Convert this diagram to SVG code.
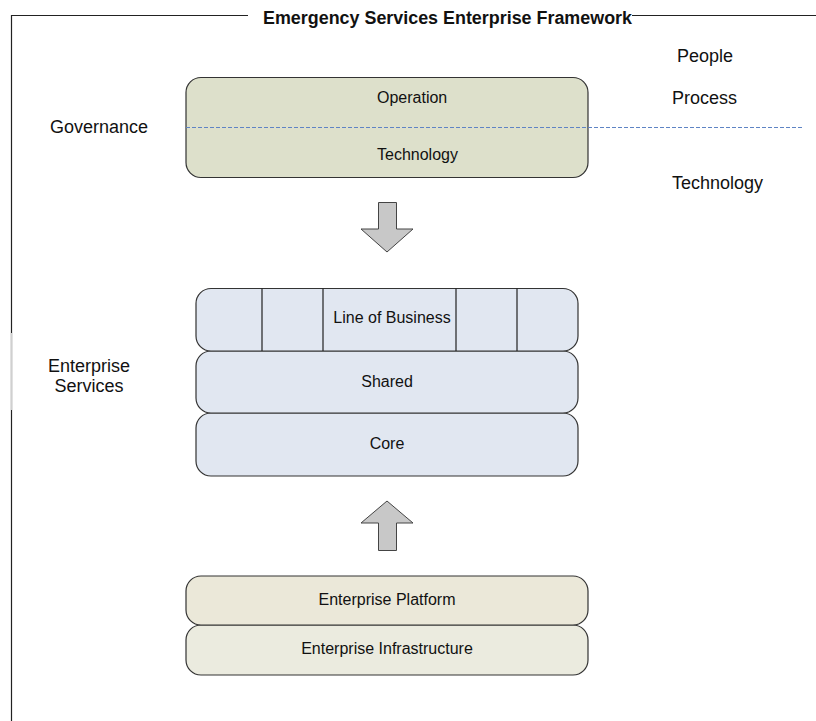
<svg xmlns="http://www.w3.org/2000/svg" width="816" height="721" viewBox="0 0 816 721">
<style>
.t{font-family:"Liberation Sans",Arial,sans-serif;fill:#111;}
.lbl{font-size:18px;}
.in{font-size:16px;text-anchor:middle;}
.box{stroke:#333;stroke-width:1.2;}
.arrow{fill:#c8c8c8;stroke:#444;stroke-width:1;}
</style>
<rect width="816" height="721" fill="#fff"/>
<g id="frame">
<path d="M11.5 721 V15.5 H248 M632 15.5 H816" fill="none" stroke="#222" stroke-width="1.2"/>
<line x1="11.5" y1="333" x2="11.5" y2="410" stroke="#d0d0d0" stroke-width="1.6"/>
<text class="t" x="263" y="24" font-size="17.5" font-weight="bold" textLength="369" lengthAdjust="spacingAndGlyphs">Emergency Services Enterprise Framework</text>
</g>
<g id="governance-label"><text class="t lbl" x="50" y="133">Governance</text></g>
<g id="people-label"><text class="t lbl" x="677" y="62">People</text></g>
<g id="process-label"><text class="t lbl" x="672" y="104">Process</text></g>
<g id="technology-label"><text class="t lbl" x="672" y="189">Technology</text></g>
<g id="enterprise-services-label"><text class="t lbl" x="89" y="372" text-anchor="middle">Enterprise</text><text class="t lbl" x="89" y="392" text-anchor="middle">Services</text></g>
<g id="governance">
<rect class="box" x="186" y="77.5" width="402" height="100" rx="15" fill="#dde0cb"/>
<text class="t" x="377" y="103" font-size="16">Operation</text>
<text class="t" x="377" y="160" font-size="16">Technology</text>
</g>
<g id="divider"><line x1="186" y1="127.5" x2="802" y2="127.5" stroke="#5f84c4" stroke-width="1.1" stroke-dasharray="4 2"/></g>
<g id="connectors">
<path class="arrow" d="M378.5 202.5 H396.5 V229 H413 L387 252 L361 229 H378.5 Z"/>
<path class="arrow" d="M378.5 550.5 H396.5 V523 H413 L387 501 L361 523 H378.5 Z"/>
</g>
<g id="core">
<rect class="box" x="196" y="413" width="382" height="63" rx="15" fill="#e1e7f1"/>
<text class="t in" x="387" y="449">Core</text>
</g>
<g id="shared">
<rect class="box" x="196" y="351" width="382" height="62" rx="15" fill="#e1e7f1"/>
<text class="t in" x="387" y="387">Shared</text>
</g>
<g id="line-of-business">
<rect class="box" x="196" y="288.5" width="382" height="62.5" rx="15" fill="#e1e7f1"/>
<path d="M262 288.5 V351 M323 288.5 V351 M456 288.5 V351 M517 288.5 V351" stroke="#222" stroke-width="1.2"/>
<text class="t in" x="392" y="323">Line of Business</text>
</g>
<g id="enterprise-infrastructure">
<rect class="box" x="186" y="625" width="402" height="50" rx="15" fill="#ebebdf"/>
<text class="t in" x="387" y="654">Enterprise Infrastructure</text>
</g>
<g id="enterprise-platform">
<rect class="box" x="186" y="576" width="402" height="49" rx="15" fill="#ebe8d9"/>
<text class="t in" x="387" y="605">Enterprise Platform</text>
</g>
</svg>
